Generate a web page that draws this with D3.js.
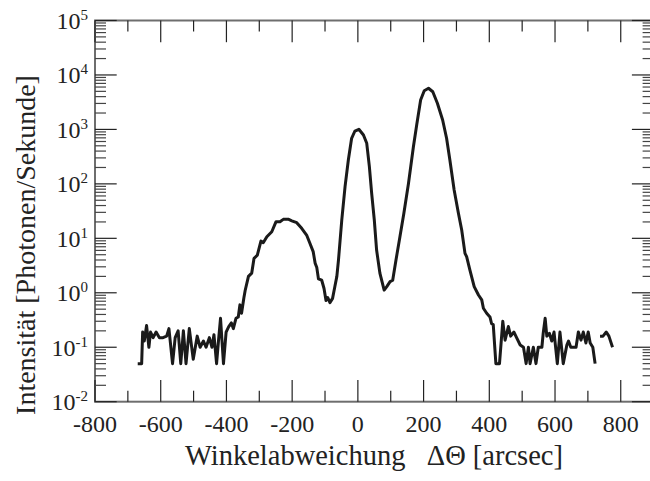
<!DOCTYPE html>
<html>
<head>
<meta charset="utf-8">
<script src="https://cdn.jsdelivr.net/npm/d3@7/dist/d3.min.js"></script>
<style>
  html, body { margin: 0; padding: 0; background: #fff; }
  svg { display: block; }
  text { font-family: "Liberation Serif", "Times New Roman", serif; fill: #222; white-space: pre; }
</style>
</head>
<body>
<svg id="chart" width="650" height="481"></svg>
<script>
// ---- data ----
const angle = [
  -670,-658,-655,-650,-643,-636,-631,-623,-614,-604,-593,-582,-575,-564,-556,-547,-539,-531,-523,-513,
  -501,-489,-480,-470,-462,-452,-444,-438,-430,-424,-418,-409,-401,-393,-385,-379,-371,-364,-359,-354,
  -347,-343,-333,-323,-316,-306,-295,-288,-277,-262,-249,-237,-227,-212,-201,-186,-171,-156,-146,-136,
  -130,-125,-120,-110,-103,-97,-92,-85,-77,-70,-64,-59,-49,-39,-29,-19,-9,3,17,27,
  35,42,50,57,67,80,88,98,106,116,128,140,154,169,179,191,202,215,228,242,
  258,270,280,293,306,316,326,331,341,354,367,377,382,392,402,407,412,420,431,441,
  448,458,465,475,483,494,504,512,519,524,534,542,549,560,564,570,575,583,590,597,
  607,615,625,636,641,648,656,664,671,679,686,694,701,707,715,722,730,737,746,756,
  764,775
];
const intensity = [
  0.05,0.05,0.19,0.13,0.25,0.1,0.19,0.15,0.19,0.15,0.15,0.16,0.22,0.05,0.15,0.2,0.05,0.2,0.05,0.22,
  0.06,0.16,0.1,0.13,0.1,0.15,0.1,0.17,0.05,0.135,0.34,0.05,0.19,0.24,0.28,0.22,0.34,0.36,0.6,0.42,
  0.8,1.1,2.0,2.3,4.3,4.9,8.9,8.3,10.7,13.2,20.2,20.2,22.3,22.5,21,19.4,15.3,11.5,8.1,5.7,
  3.5,2.9,1.8,1.7,1.2,0.72,0.82,0.66,0.79,1.3,2.0,4,21.7,89,274,687,935,1005,789,556,
  207,67,21.7,6.1,2.3,1.12,1.3,1.6,1.7,4,10.7,28.8,102,481,1206,3467,5140,5690,4920,3015,
  1489,687,274,77,28.8,14.2,5.3,4.6,2.6,1.3,0.91,0.74,0.52,0.42,0.36,0.27,0.26,0.05,0.05,0.3,
  0.135,0.24,0.16,0.19,0.15,0.11,0.1,0.05,0.1,0.05,0.1,0.05,0.1,0.1,0.18,0.34,0.16,0.18,0.13,0.19,
  0.05,0.19,0.05,0.11,0.13,0.1,0.1,0.1,0.19,0.135,0.19,0.12,0.19,0.12,0.1,0.05,null,0.16,0.16,0.19,
  0.16,0.1
];
const xTickLabels = [-800,-600,-400,-200,0,200,400,600,800];
const yExponents = [-2,-1,0,1,2,3,4,5];
const xTitle = "Winkelabweichung   ΔΘ [arcsec]";
const yTitle = "Intensität [Photonen/Sekunde]";

(function () {
// ---- layout ----
const pLeft = 95, pRight = 653.6, pTop = 20.5, pBottom = 401.7;
const majorLen = 21.7, minorLen = 11;

const svg = d3.select("#chart");
const x = d3.scaleLinear().domain([-800, 900]).range([pLeft, pRight]);
const y = d3.scaleLog().domain([1e-2, 1e5]).range([pBottom, pTop]);

// frame
svg.append("rect")
  .attr("x", pLeft).attr("y", pTop)
  .attr("width", pRight - pLeft).attr("height", pBottom - pTop)
  .attr("fill", "none").attr("stroke", "#6e6e6e").attr("stroke-width", 2);

const ticks = svg.append("g").attr("stroke", "#222").attr("stroke-width", 1.2);

// x ticks (bottom and top, inward)
const xMajor = d3.range(-800, 901, 200);
const xMinor = d3.range(-700, 901, 200);
xMajor.forEach(v => {
  ticks.append("line").attr("x1", x(v)).attr("x2", x(v)).attr("y1", pBottom).attr("y2", pBottom - majorLen);
  ticks.append("line").attr("x1", x(v)).attr("x2", x(v)).attr("y1", pTop).attr("y2", pTop + majorLen);
});
xMinor.forEach(v => {
  ticks.append("line").attr("x1", x(v)).attr("x2", x(v)).attr("y1", pBottom).attr("y2", pBottom - minorLen);
  ticks.append("line").attr("x1", x(v)).attr("x2", x(v)).attr("y1", pTop).attr("y2", pTop + minorLen);
});

// y ticks (left and right, inward)
yExponents.forEach(e => {
  const v = Math.pow(10, e);
  ticks.append("line").attr("x1", pLeft).attr("x2", pLeft + majorLen).attr("y1", y(v)).attr("y2", y(v));
  ticks.append("line").attr("x1", pRight).attr("x2", pRight - majorLen).attr("y1", y(v)).attr("y2", y(v));
  if (e < 5) {
    for (let m = 2; m <= 9; m++) {
      const mv = m * v;
      ticks.append("line").attr("x1", pLeft).attr("x2", pLeft + minorLen).attr("y1", y(mv)).attr("y2", y(mv)).attr("stroke", "#444");
      ticks.append("line").attr("x1", pRight).attr("x2", pRight - minorLen).attr("y1", y(mv)).attr("y2", y(mv)).attr("stroke", "#444");
    }
  }
});

// x tick labels
svg.append("g").selectAll("text").data(xTickLabels).join("text")
  .attr("x", d => x(d)).attr("y", 432)
  .attr("text-anchor", "middle").attr("font-size", 24)
  .text(d => String(d));

// y tick labels with superscript exponents
const yl = svg.append("g").selectAll("text").data(yExponents).join("text")
  .attr("x", 88).attr("y", d => y(Math.pow(10, d)) + 8.5)
  .attr("text-anchor", "end").attr("font-size", 24);
yl.append("tspan").text("10");
yl.append("tspan").attr("font-size", 15).attr("dy", -9).text(d => String(d));

// axis titles
svg.append("text").attr("x", 374).attr("y", 465)
  .attr("text-anchor", "middle").attr("font-size", 28.5).text(xTitle);
svg.append("text").attr("transform", "translate(35,245) rotate(-90)")
  .attr("text-anchor", "middle").attr("font-size", 28).text(yTitle);

// data line
const pts = angle.map((a, i) => [a, intensity[i]]);
const line = d3.line()
  .defined(d => d[1] != null)
  .x(d => x(d[0])).y(d => y(d[1]));
svg.append("path").datum(pts)
  .attr("d", line)
  .attr("fill", "none").attr("stroke", "#1a1a1a")
  .attr("stroke-width", 3).attr("stroke-linejoin", "round").attr("stroke-linecap", "butt");
})();
</script>
</body>
</html>
